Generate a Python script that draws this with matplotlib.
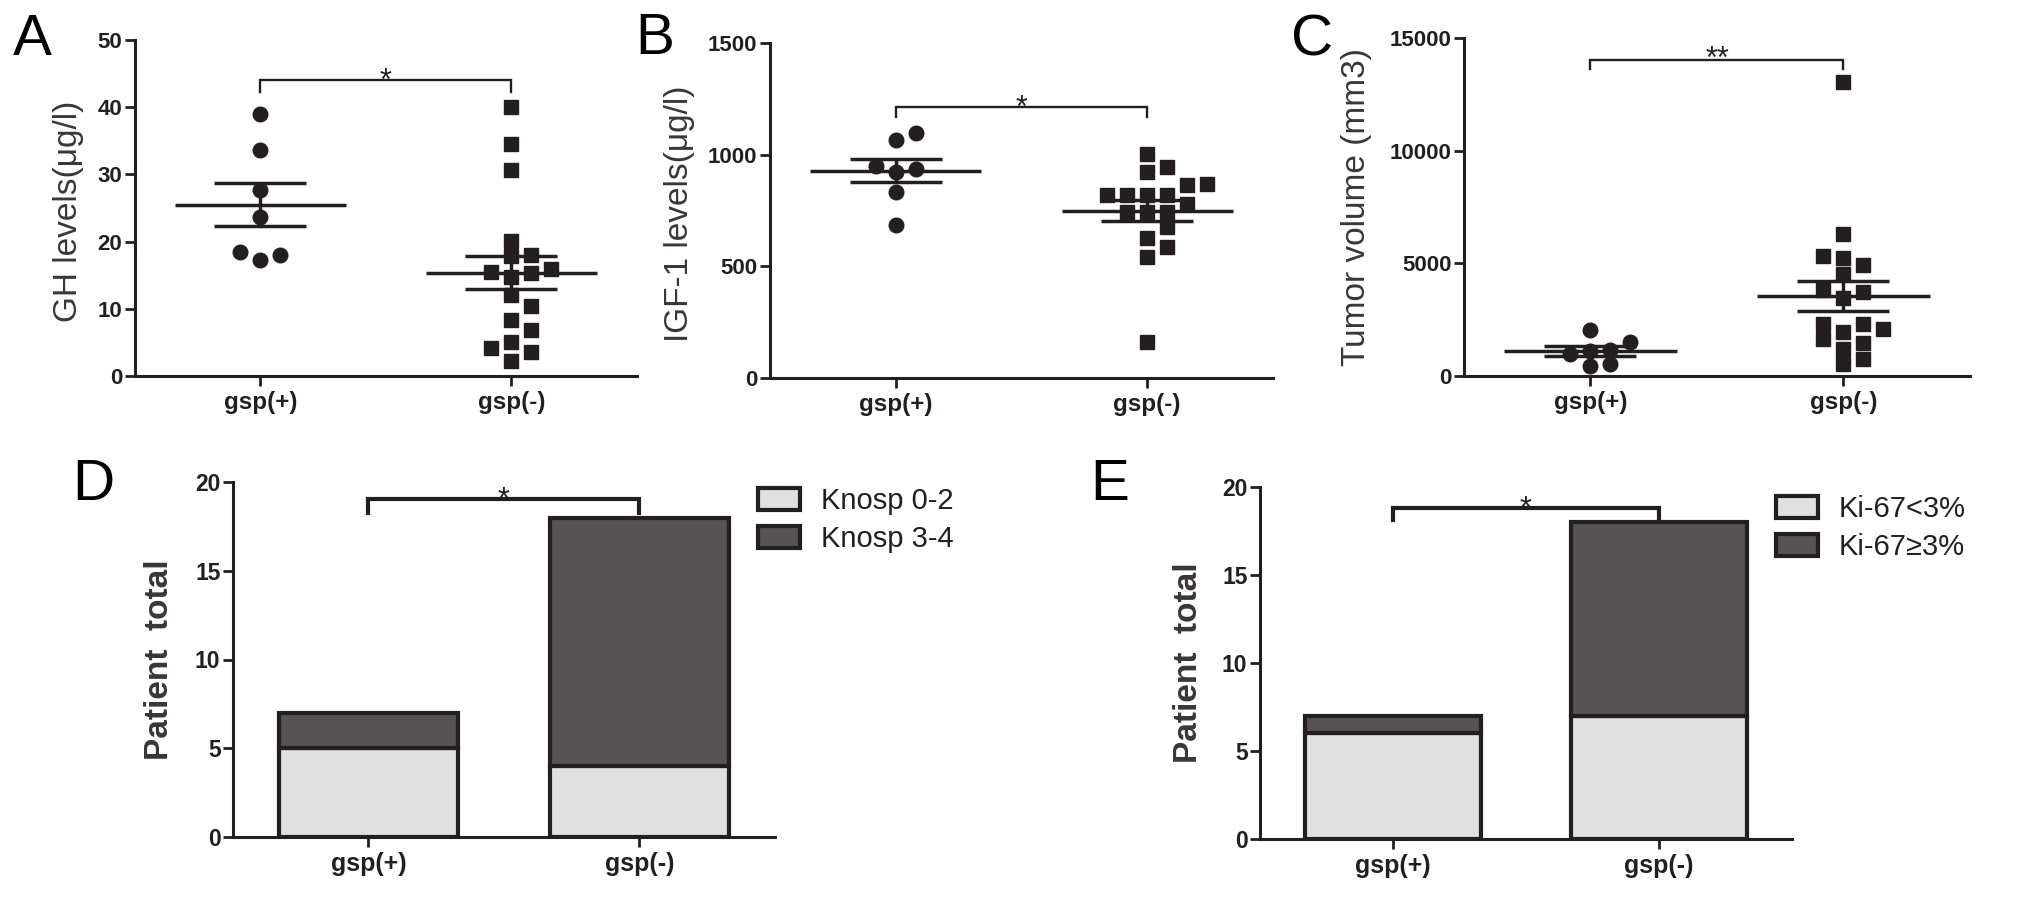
import numpy as np
import matplotlib
matplotlib.use('Agg')
import matplotlib.pyplot as plt
from matplotlib.patches import Patch

plt.rcParams['font.family'] = ['Liberation Sans', 'DejaVu Sans']

# ---- data ----
groups = ['gsp(+)', 'gsp(-)']

gh_pos = [39.0, 33.6, 27.7, 23.7, 18.5, 18.0, 17.2]
gh_neg = [40.0, 34.5, 30.6, 20.1, 18.0, 17.85, 15.85, 15.5, 15.35, 14.7,
          12.1, 10.35, 8.35, 6.85, 5.1, 4.1, 3.6, 2.2]
gh_mean = [25.5, 15.4]
gh_sem = [3.2, 2.45]

igf_pos = [1096, 1066, 950, 936, 921, 835, 684]
igf_neg = [1003, 943, 921, 868, 864, 820, 820, 820, 820, 778, 744, 744,
           744, 674, 629, 587, 542, 162]
igf_mean = [928, 749]
igf_sem = [52, 46]

vol_pos = [2047, 1513, 1157, 1113, 979, 534, 445]
vol_neg = [13050, 6320, 5340, 5250, 4940, 4540, 3830, 3740, 3470, 2310,
           2310, 2090, 1960, 1650, 1470, 1200, 760, 530]
vol_mean = [1090, 3560]
vol_sem = [220, 665]

knosp_labels = ['Knosp 0-2', 'Knosp 3-4']
knosp_low = [5, 4]
knosp_high = [2, 14]

ki67_labels = ['Ki-67<3%', 'Ki-67≥3%']
ki67_low = [6, 7]
ki67_high = [1, 11]

INK = '#231f20'
LIGHT = '#e0e0e0'
DARK = '#575354'

W, H = 2031, 909
fig = plt.figure(figsize=(W / 100, H / 100), dpi=100)


def px_axes(left, top, right, bottom):
    return fig.add_axes([left / W, 1 - bottom / H, (right - left) / W, (bottom - top) / H])


def style_axes(ax, ymax, yticks, ytick_fs, xtick_fs):
    ax.spines[['top', 'right']].set_visible(False)
    for s in ('left', 'bottom'):
        ax.spines[s].set_linewidth(2.2)
        ax.spines[s].set_color(INK)
    ax.set_xlim(-0.5, 1.5)
    ax.set_ylim(0, ymax)
    ax.set_yticks(yticks)
    ax.set_xticks([0, 1])
    ax.set_xticklabels(groups)
    ax.tick_params(axis='both', direction='out', width=2, color=INK, labelcolor=INK)
    ax.tick_params(axis='y', length=7, pad=2, labelsize=ytick_fs)
    ax.tick_params(axis='x', length=7, pad=4, labelsize=xtick_fs)
    for lab in ax.get_xticklabels() + ax.get_yticklabels():
        lab.set_fontweight('bold')


def swarm_x(ax, center, values, diam=14, step=20):
    # simple beeswarm: ascending values, try centre, then right, then left
    to_px = ax.transData.transform
    px_per_unit = to_px((1, 0))[0] - to_px((0, 0))[0]
    placed = []
    xs = np.zeros(len(values))
    for i in np.argsort(values):
        y_px = to_px((center, values[i]))[1]
        for k in [0, 1, -1, 2, -2, 3, -3, 4, -4]:
            x_px = k * step
            if all((x_px - px) ** 2 + (y_px - py) ** 2 >= diam ** 2 for px, py in placed):
                break
        placed.append((x_px, y_px))
        xs[i] = center + x_px / px_per_unit
    return xs


def dot_plot(ax, data, means, sems):
    for i, (vals, mk) in enumerate(zip(data, ['o', 's'])):
        ax.plot(swarm_x(ax, i, vals), vals, ls='none', marker=mk, ms=10.5,
                color=INK, mec=INK, clip_on=False, zorder=3)
    ax.hlines(means, [-0.34, 0.66], [0.34, 1.34], color=INK, lw=2.5, zorder=4)
    ax.errorbar([0, 1], means, yerr=sems, fmt='none', ecolor=INK,
                elinewidth=2.5, capsize=33, capthick=2.5, zorder=4)


def bracket(ax, top, low, text, lw=1.7, fs=22, off=-7):
    ax.plot([0, 0, 1, 1], [low, top, top, low], color=INK, lw=lw,
            clip_on=False, solid_joinstyle='miter', zorder=5)
    ax.annotate(text, xy=(0.5, top), xytext=(0, off), textcoords='offset points',
                ha='center', va='baseline', fontsize=fs, color=INK)


def stacked(ax, low, high, labels, legend_xy):
    ax.bar([0, 1], low, width=0.66, color=LIGHT, edgecolor=INK, lw=3, zorder=2)
    ax.bar([0, 1], high, bottom=low, width=0.66, color=DARK, edgecolor=INK, lw=3, zorder=2)
    handles = [Patch(facecolor=LIGHT, edgecolor=INK, lw=3, label=labels[0]),
               Patch(facecolor=DARK, edgecolor=INK, lw=3, label=labels[1])]
    leg = ax.legend(handles=handles, loc='upper left',
                    bbox_to_anchor=(legend_xy[0] / W, 1 - legend_xy[1] / H),
                    bbox_transform=fig.transFigure, frameon=False, fontsize=21,
                    handlelength=1.45, handleheight=0.8, handletextpad=0.7,
                    labelspacing=0.35, borderpad=0, borderaxespad=0)
    for t in leg.get_texts():
        t.set_color(INK)


# ---- A: GH ----
axA = px_axes(135, 40, 637, 376)
style_axes(axA, 50, [0, 10, 20, 30, 40, 50], 16, 17.5)
dot_plot(axA, [gh_pos, gh_neg], gh_mean, gh_sem)
bracket(axA, 44.0, 42.3, '*')
axA.set_ylabel('GH levels(μg/l)', fontsize=24, color='#3a3536', va='center')
axA.yaxis.set_label_coords(-0.133, 0.49)

# ---- B: IGF-1 ----
axB = px_axes(770, 43, 1273, 378)
style_axes(axB, 1500, [0, 500, 1000, 1500], 16, 17.5)
dot_plot(axB, [igf_pos, igf_neg], igf_mean, igf_sem)
bracket(axB, 1213, 1168, '*')
axB.set_ylabel('IGF-1 levels(μg/l)', fontsize=24, color='#3a3536', va='center')
axB.yaxis.set_label_coords(-0.179, 0.49)

# ---- C: tumour volume ----
axC = px_axes(1464, 38, 1970, 376)
style_axes(axC, 15000, [0, 5000, 10000, 15000], 16, 17.5)
dot_plot(axC, [vol_pos, vol_neg], vol_mean, vol_sem)
bracket(axC, 14042, 13620, '**', off=-6)
axC.set_ylabel('Tumor volume (mm3)', fontsize=24, color='#3a3536', va='center')
axC.yaxis.set_label_coords(-0.213, 0.5)

# ---- D: Knosp ----
axD = px_axes(233, 482, 775, 837)
style_axes(axD, 20, [0, 5, 10, 15, 20], 16.5, 18)
stacked(axD, knosp_low, knosp_high, knosp_labels, (758, 487))
bracket(axD, 19.05, 18.26, '*', lw=3)
axD.set_ylabel('Patient  total', fontsize=24, fontweight='bold', color='#3a3536', va='center')
axD.yaxis.set_label_coords(-0.135, 0.5)

# ---- E: Ki-67 ----
axE = px_axes(1260, 487, 1792, 839)
style_axes(axE, 20, [0, 5, 10, 15, 20], 16.5, 18)
stacked(axE, ki67_low, ki67_high, ki67_labels, (1776, 495))
bracket(axE, 18.8, 18.1, '*', lw=3)
axE.set_ylabel('Patient  total', fontsize=24, fontweight='bold', color='#3a3536', va='center')
axE.yaxis.set_label_coords(-0.134, 0.5)

# panel letters
for letter, x, y in [('A', 13, 55), ('B', 635, 54), ('C', 1291, 55),
                     ('D', 72, 500), ('E', 1090, 500)]:
    fig.text(x / W, 1 - y / H, letter, fontsize=42, ha='left', va='baseline', color='black')

fig.savefig('out.png', dpi=100)
